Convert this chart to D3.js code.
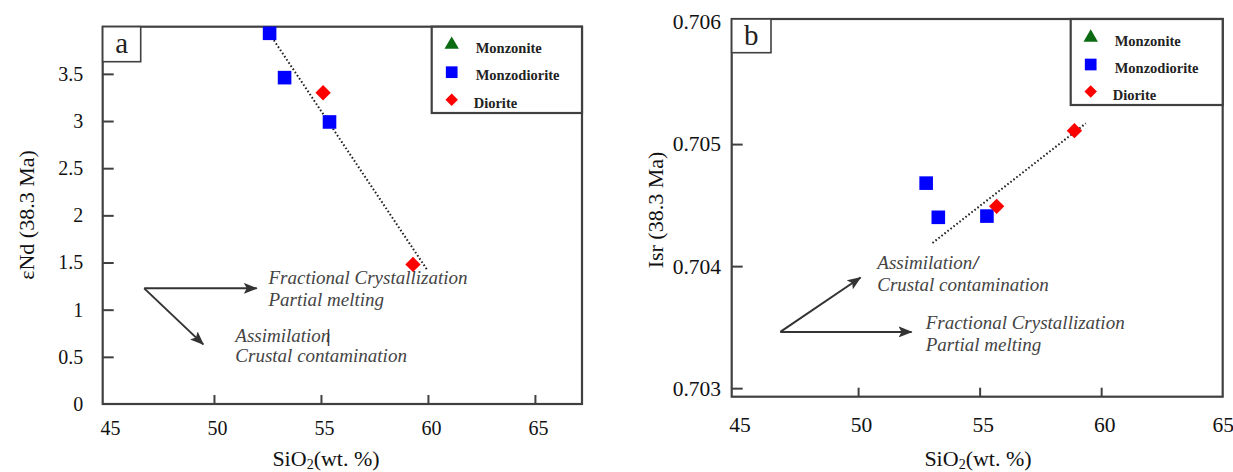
<!DOCTYPE html>
<html><head><meta charset="utf-8">
<script src="https://cdn.jsdelivr.net/npm/d3@7"></script>
<style>
html,body{margin:0;padding:0;background:#fff;}
svg{display:block;}
</style></head>
<body>
<svg id="c" width="1233" height="472"></svg>
<script>
// ---------- data ----------
const categories = ["Monzonite", "Monzodiorite", "Diorite"];
const xTicks = [45, 50, 55, 60, 65];
// panel a : eNd(t) vs SiO2
const aMonzodioriteSiO2 = [52.6, 53.3, 55.4];
const aMonzodioriteENd  = [3.93, 3.46, 2.99];
const aDioriteSiO2 = [55.1, 59.3];
const aDioriteENd  = [3.30, 1.48];
const aTrendSiO2 = [52.7, 60.0];
const aTrendENd  = [3.89, 1.41];
const aYTicks = [0, 0.5, 1, 1.5, 2, 2.5, 3, 3.5];
const aYTickLabels = ["0", "0.5", "1", "1.5", "2", "2.5", "3", "3.5"];
// panel b : Isr vs SiO2
const bMonzodioriteSiO2 = [52.8, 53.3, 55.3];
const bMonzodioriteIsr  = [0.70468, 0.70440, 0.70441];
const bDioriteSiO2 = [55.7, 58.9];
const bDioriteIsr  = [0.70449, 0.70511];
const bTrendSiO2 = [53.06, 59.37];
const bTrendIsr  = [0.70419, 0.70517];
const bYTicks = [0.703, 0.704, 0.705, 0.706];
const bYTickLabels = ["0.703", "0.704", "0.705", "0.706"];
// process arrows (data units): origin, ends
const aArrowOrigin = [46.74, 1.226];
const aArrowEnds = [[52.0, 1.226], [49.5, 0.632]];
const bArrowOrigin = [46.8, 0.703461];
const bArrowEnds = [[52.2, 0.703461], [50.1, 0.703907]];
const aNotes = [
  {t: "Fractional Crystallization", x: 52.55, y: 1.335},
  {t: "Partial melting", x: 52.55, y: 1.10},
  {t: "Assimilation", x: 51.0, y: 0.72, slash: true, overlap: true},
  {t: "Crustal contamination", x: 51.0, y: 0.508}
];
const bNotes = [
  {t: "Assimilation", x: 50.79, y: 0.704025, slash: true},
  {t: "Crustal contamination", x: 50.79, y: 0.703844},
  {t: "Fractional Crystallization", x: 52.78, y: 0.703533},
  {t: "Partial melting", x: 52.78, y: 0.703352}
];

// ---------- styles ----------
const SERIF = "'Liberation Serif'";
const frameColor = "#404040";
const colors = {Monzonite: "#0b6b12", Monzodiorite: "#0000ff", Diorite: "#ff0000"};
const svg = d3.select("#c");
const defs = svg.append("defs");
defs.append("marker").attr("id", "ah").attr("viewBox", "0 0 14 11")
  .attr("refX", 13).attr("refY", 5.5).attr("markerWidth", 14).attr("markerHeight", 11)
  .attr("markerUnits", "userSpaceOnUse").attr("orient", "auto")
  .append("path").attr("d", "M0,0 L14,5.5 L0,11 L3,5.5 Z").attr("fill", "#333");

const sym = {
  Monzonite: d3.symbol().type(d3.symbolTriangle),
  Monzodiorite: d3.symbol().type(d3.symbolSquare),
  Diorite: d3.symbol().type(d3.symbolDiamond2)
};
const markSize = {Monzonite: 150, Monzodiorite: 185, Diorite: 150};
const legendSize = {Monzonite: 90, Monzodiorite: 137, Diorite: 100};

function serif(sel, size) {
  return sel.attr("font-family", null).style("font-family", SERIF).style("font-size", size + "px");
}

function panel(cfg) {
  const g = svg.append("g");
  const x = d3.scaleLinear().domain(cfg.xDomain).range([cfg.left, cfg.right]);
  const y = d3.scaleLinear().domain(cfg.yDomain).range([cfg.bottom, cfg.top]);

  // x axis (inner ticks)
  const xa = g.append("g").attr("transform", `translate(0,${cfg.bottom})`)
    .call(d3.axisBottom(x).tickValues(xTicks).tickSize(-9).tickPadding(0).tickFormat(d3.format("d")));
  xa.attr("font-family", null).attr("font-size", null);
  xa.select(".domain").remove();
  xa.selectAll(".tick line").attr("stroke", frameColor).attr("stroke-width", 2)
    .attr("opacity", d => (d <= cfg.xDomain[0] + 0.3 || d >= cfg.xDomain[1] - 0.3) ? 0 : 1);
  serif(xa.selectAll(".tick text"), cfg.tickFont).attr("y", cfg.xLabelDy)
    .attr("dx", d => d >= cfg.xDomain[1] - 0.3 ? 0 : 3).attr("fill", "#111");

  // y axis (inner ticks)
  const ya = g.append("g").attr("transform", `translate(${cfg.left},0)`)
    .call(d3.axisLeft(y).tickValues(cfg.yTicks).tickSize(-11).tickPadding(0)
      .tickFormat((d, i) => cfg.yTickLabels[i]));
  ya.attr("font-family", null).attr("font-size", null);
  ya.select(".domain").remove();
  ya.selectAll(".tick line").attr("stroke", frameColor).attr("stroke-width", 2)
    .attr("opacity", d => d <= cfg.yDomain[0] + 1e-9 ? 0 : 1);
  serif(ya.selectAll(".tick text"), cfg.tickFont).attr("x", cfg.yLabelDx).attr("fill", "#111");

  // frame
  g.append("rect").attr("x", cfg.left).attr("y", cfg.top)
    .attr("width", cfg.right - cfg.left).attr("height", cfg.bottom - cfg.top)
    .attr("fill", "none").attr("stroke", frameColor).attr("stroke-width", 2.2);

  // axis titles
  const xt = serif(g.append("text"), 22).attr("x", cfg.xTitleX).attr("y", cfg.xTitleY)
    .attr("text-anchor", "middle").attr("fill", "#111");
  xt.append("tspan").text("SiO");
  xt.append("tspan").text("2").style("font-size", "14px").attr("dy", 3);
  xt.append("tspan").text("(wt. %)").attr("dy", -3);
  serif(g.append("text"), 22).attr("transform", `translate(${cfg.yTitleX},${cfg.yTitleY}) rotate(-90)`)
    .attr("text-anchor", "middle").attr("fill", "#111").text(cfg.yTitle);

  // panel letter box
  g.append("rect").attr("x", cfg.left).attr("y", cfg.top).attr("width", cfg.boxW).attr("height", cfg.boxH)
    .attr("fill", "#fff").attr("stroke", frameColor).attr("stroke-width", 1.6);
  serif(g.append("text"), 29).attr("x", cfg.left + cfg.boxW / 2).attr("y", cfg.top + cfg.boxH / 2 + 9)
    .attr("text-anchor", "middle").attr("fill", "#222").text(cfg.letter);

  // trend line
  g.append("line").attr("x1", x(cfg.trendX[0])).attr("y1", y(cfg.trendY[0]))
    .attr("x2", x(cfg.trendX[1])).attr("y2", y(cfg.trendY[1]))
    .attr("stroke", "#222").attr("stroke-width", 2).attr("stroke-dasharray", "1.6,2.2");

  // points
  cfg.series.forEach(s => {
    g.selectAll(null).data(s.xs.map((v, i) => [v, s.ys[i]])).enter().append("path")
      .attr("d", sym[s.name].size(markSize[s.name])())
      .attr("transform", d => `translate(${x(d[0])},${y(d[1])})`)
      .attr("fill", colors[s.name]);
  });

  // arrows
  cfg.arrowEnds.forEach(e => {
    g.append("line").attr("x1", x(cfg.arrowOrigin[0])).attr("y1", y(cfg.arrowOrigin[1]))
      .attr("x2", x(e[0])).attr("y2", y(e[1]))
      .attr("stroke", "#333").attr("stroke-width", 2).attr("marker-end", "url(#ah)");
  });
  cfg.notes.forEach(n => {
    const t = serif(g.append("text"), 19).attr("x", x(n.x)).attr("y", y(n.y) + 6)
      .style("font-style", "italic").attr("fill", "#444").text(n.t);
    if (n.slash) {
      t.append("tspan").text(n.overlap ? "|" : "/").style("font-weight", "bold")
        .attr("dx", n.overlap ? -4 : 1).attr("fill", "#333");
    }
  });

  // legend
  const L = cfg.legend;
  g.append("rect").attr("x", L.x).attr("y", cfg.top).attr("width", cfg.right - L.x).attr("height", L.h)
    .attr("fill", "#fff").attr("stroke", frameColor).attr("stroke-width", 2.2);
  categories.forEach((c, i) => {
    const cy = cfg.top + L.y0 + i * L.dy;
    g.append("path").attr("d", sym[c].size(legendSize[c])())
      .attr("transform", `translate(${L.x + 20},${cy})`).attr("fill", colors[c]);
    serif(g.append("text"), 14.5).attr("x", L.x + 44 - (c === "Diorite" ? 2 : 0)).attr("y", cy + 8)
      .style("font-weight", "bold").attr("fill", "#222").text(c);
  });
}

panel({
  letter: "a", left: 102.7, right: 582, top: 26.7, bottom: 404,
  xDomain: [44.8, 67.2], yDomain: [0, 4],
  yTicks: aYTicks, yTickLabels: aYTickLabels, tickFont: 20,
  xLabelDy: 17, yLabelDx: -19.4, xTitleX: 326, xTitleY: 466,
  yTitle: "\u03b5Nd (38.3 Ma)", yTitleX: 34, yTitleY: 215,
  boxW: 38, boxH: 35,
  trendX: aTrendSiO2, trendY: aTrendENd,
  series: [
    {name: "Monzodiorite", xs: aMonzodioriteSiO2, ys: aMonzodioriteENd},
    {name: "Diorite", xs: aDioriteSiO2, ys: aDioriteENd}
  ],
  arrowOrigin: aArrowOrigin, arrowEnds: aArrowEnds, notes: aNotes,
  legend: {x: 431.7, h: 86.3, y0: 18, dy: 27.5}
});

panel({
  letter: "b", left: 731.7, right: 1222.7, top: 19, bottom: 396.7,
  xDomain: [44.8, 65.0], yDomain: [0.70293, 0.706025],
  yTicks: bYTicks, yTickLabels: bYTickLabels, tickFont: 21.5,
  xLabelDy: 20, yLabelDx: -10.7, xTitleX: 978, xTitleY: 466,
  yTitle: "Isr (38.3 Ma)", yTitleX: 663, yTitleY: 210,
  boxW: 39.3, boxH: 33.7,
  trendX: bTrendSiO2, trendY: bTrendIsr,
  series: [
    {name: "Monzodiorite", xs: bMonzodioriteSiO2, ys: bMonzodioriteIsr},
    {name: "Diorite", xs: bDioriteSiO2, ys: bDioriteIsr}
  ],
  arrowOrigin: bArrowOrigin, arrowEnds: bArrowEnds, notes: bNotes,
  legend: {x: 1070.7, h: 86, y0: 18.5, dy: 27}
});
</script>
</body></html>
